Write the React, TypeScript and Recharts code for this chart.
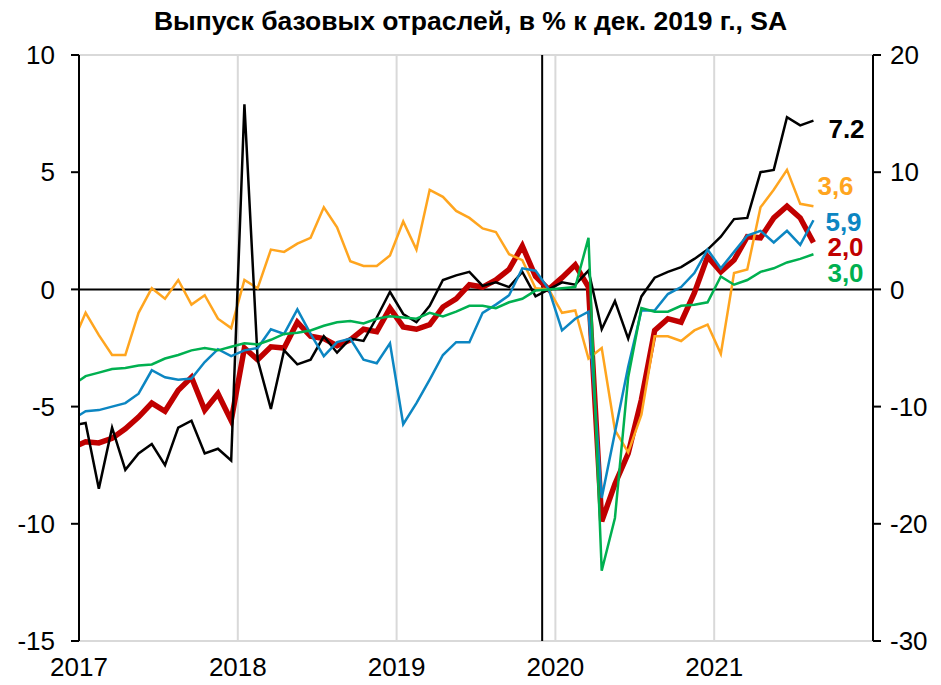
import { LineChart, Line, XAxis, YAxis, CartesianGrid, ReferenceLine } from 'recharts';

// Monthly, Dec 2016 .. Aug 2021 (Dec 2016 sits left of the axis and is clipped)
const months = [
  '2016-12',
  '2017-01', '2017-02', '2017-03', '2017-04', '2017-05', '2017-06', '2017-07', '2017-08', '2017-09', '2017-10', '2017-11', '2017-12',
  '2018-01', '2018-02', '2018-03', '2018-04', '2018-05', '2018-06', '2018-07', '2018-08', '2018-09', '2018-10', '2018-11', '2018-12',
  '2019-01', '2019-02', '2019-03', '2019-04', '2019-05', '2019-06', '2019-07', '2019-08', '2019-09', '2019-10', '2019-11', '2019-12',
  '2020-01', '2020-02', '2020-03', '2020-04', '2020-05', '2020-06', '2020-07', '2020-08', '2020-09', '2020-10', '2020-11', '2020-12',
  '2021-01', '2021-02', '2021-03', '2021-04', '2021-05', '2021-06', '2021-07', '2021-08',
];

const yearLabels = ['2017', '2018', '2019', '2020', '2021'];

// left axis
const blackSeries = [
  -5.8,
  -5.7, -8.5, -5.9, -7.7, -7.0, -6.6, -7.5, -5.9, -5.6, -7.0, -6.8, -7.3,
  7.9, -3.0, -5.1, -2.6, -3.2, -3.0, -2.0, -2.7, -2.1, -2.2, -1.2, -0.1,
  -1.05, -1.4, -0.7, 0.4, 0.6, 0.75, 0.15, 0.3, 0.1, 0.75, -0.3, 0,
  0.3, 0.2, 0.8, -1.7, -0.5, -2.1, -0.3, 0.5, 0.75, 0.95, 1.3, 1.7,
  2.25, 3.0, 3.05, 5.0, 5.1, 7.35, 7.0, 7.2,
];

const orangeSeries = [
  -2.3,
  -1.0, -1.95, -2.8, -2.8, -1.0, 0.05, -0.4, 0.4, -0.65, -0.25, -1.25, -1.65,
  0.4, 0.05, 1.7, 1.6, 1.95, 2.2, 3.5, 2.65, 1.2, 1.0, 1.0, 1.45,
  2.9, 1.7, 4.25, 3.95, 3.35, 3.05, 2.6, 2.45, 1.5, 1.25, 0.05, 0,
  -1.0, -0.9, -2.95, -2.5, -6.0, -6.95, -5.35, -2.0, -2.0, -2.2, -1.75, -1.5,
  -2.75, 0.7, 0.85, 3.5, 4.25, 5.1, 3.65, 3.55,
];

const redSeries = [
  -6.75,
  -6.5, -6.55, -6.35, -5.95, -5.45, -4.85, -5.2, -4.3, -3.75, -5.15, -4.45, -5.6,
  -2.5, -3.0, -2.45, -2.5, -1.4, -2.0, -2.1, -2.4, -2.15, -1.7, -1.8, -0.8,
  -1.6, -1.7, -1.5, -0.75, -0.4, 0.2, 0.1, 0.4, 0.85, 1.85, 0.55, 0,
  0.5, 1.05, 0.1, -9.9, -8.3, -7.0, -4.7, -1.75, -1.25, -1.4, -0.15, 1.4,
  0.75, 1.25, 2.25, 2.2, 3.05, 3.55, 3.05, 2.0,
];

// right axis
const blueSeries = [
  -11.1,
  -10.4, -10.3, -10.0, -9.7, -8.9, -6.9, -7.5, -7.7, -7.6, -6.2, -5.1, -5.7,
  -5.2, -5.0, -3.4, -3.8, -1.7, -3.8, -5.7, -4.5, -4.2, -6.0, -6.3, -4.6,
  -11.5, -9.7, -7.7, -5.6, -4.5, -4.5, -2.0, -1.3, -0.5, 1.8, 1.6, 0,
  -3.5, -2.5, -1.9, -17.8, -12.2, -6.6, -1.8, -1.8, -0.4, 0.2, 1.4, 3.4,
  1.8, 3.2, 4.6, 5.0, 4.0, 5.0, 3.8, 5.9,
];

const greenSeries = [
  -8.2,
  -7.4, -7.1, -6.8, -6.7, -6.5, -6.4, -5.9, -5.6, -5.2, -5.0, -5.2, -4.9,
  -4.6, -4.7, -4.3, -3.8, -3.7, -3.5, -3.1, -2.8, -2.7, -2.9, -2.5, -2.3,
  -2.4, -2.5, -2.0, -2.3, -1.9, -1.4, -1.4, -1.6, -1.1, -0.8, -0.1, 0,
  0.1, 0.2, 4.4, -24.0, -19.5, -7.5, -1.6, -1.9, -1.9, -1.4, -1.3, -1.1,
  1.1, 0.4, 0.8, 1.5, 1.8, 2.3, 2.6, 3.0,
];

const endLabels = {
  black: '7.2',
  orange: '3,6',
  blue: '5,9',
  red: '2,0',
  green: '3,0',
};

const chartData = months.map((m, i) => ({
  month: m,
  x: i - 0.5, // mid-month position, Jan 2017 = 0.5
  black: blackSeries[i],
  orange: orangeSeries[i],
  red: redSeries[i],
  blue: blueSeries[i],
  green: greenSeries[i],
}));

const LAST = months.length - 1;
const FONT = '"Liberation Sans", Arial, sans-serif';

const endLabel = (text: string, color: string, dx: number, dy: number) => (props: any) => {
  if (props.index !== LAST) return null;
  return (
    <text
      x={props.x + dx}
      y={props.y + dy}
      fill={color}
      fontSize={26}
      fontWeight="bold"
      fontFamily={FONT}
    >
      {text}
    </text>
  );
};

const tickStyle = { fontSize: 26, fill: '#000', fontFamily: FONT };

const App = () => {
  return (
    <div style={{ position: 'absolute', left: 0, top: 0, width: 941, height: 685, background: '#fff' }}>
      <div
        style={{
          position: 'absolute',
          top: 6,
          left: 0,
          width: 941,
          textAlign: 'center',
          fontFamily: FONT,
          fontWeight: 'bold',
          fontSize: 26.5,
          lineHeight: 1.15,
        }}
      >
        Выпуск базовых отраслей, в % к дек. 2019 г., SA
      </div>
      <LineChart
        width={941}
        height={685}
        data={chartData}
        margin={{ top: 55, right: 0, bottom: 0, left: 0 }}
        style={{ fontFamily: FONT }}
      >
        <CartesianGrid stroke="#d9d9d9" strokeWidth={2} />
        <XAxis
          dataKey="x"
          type="number"
          domain={[0, 60]}
          allowDataOverflow
          ticks={[0, 12, 24, 36, 48]}
          tickFormatter={(v: number) => yearLabels[v / 12]}
          axisLine={false}
          tickLine={false}
          tickSize={8}
          tickMargin={9}
          height={44}
          tick={tickStyle}
          interval={0}
        />
        <YAxis
          yAxisId="left"
          domain={[-15, 10]}
          ticks={[-15, -10, -5, 0, 5, 10]}
          width={79}
          tick={tickStyle}
          tickSize={8}
          tickMargin={16}
          axisLine={{ stroke: '#000', strokeWidth: 2 }}
          tickLine={{ stroke: '#000', strokeWidth: 2 }}
          interval={0}
        />
        <YAxis
          yAxisId="right"
          orientation="right"
          domain={[-30, 20]}
          ticks={[-30, -20, -10, 0, 10, 20]}
          width={68}
          tick={{ ...tickStyle, textAnchor: 'start' }}
          tickSize={8}
          tickMargin={9}
          axisLine={{ stroke: '#000', strokeWidth: 2 }}
          tickLine={{ stroke: '#000', strokeWidth: 2 }}
          interval={0}
        />
        <ReferenceLine yAxisId="left" y={0} stroke="#000" strokeWidth={2} />
        <ReferenceLine yAxisId="left" x={35} stroke="#000" strokeWidth={2} />
        <Line
          yAxisId="left"
          dataKey="red"
          stroke="#c00000"
          strokeWidth={5.5}
          dot={false}
          isAnimationActive={false}
          label={endLabel(endLabels.red, '#c00000', 14, 13)}
        />
        <Line
          yAxisId="left"
          dataKey="orange"
          stroke="#ffa51f"
          strokeWidth={2.5}
          dot={false}
          isAnimationActive={false}
          label={endLabel(endLabels.orange, '#ffa51f', 4, -11)}
        />
        <Line
          yAxisId="left"
          dataKey="black"
          stroke="#000"
          strokeWidth={2.5}
          dot={false}
          isAnimationActive={false}
          label={endLabel(endLabels.black, '#000', 15, 17)}
        />
        <Line
          yAxisId="right"
          dataKey="blue"
          stroke="#0c86c2"
          strokeWidth={2.5}
          dot={false}
          isAnimationActive={false}
          label={endLabel(endLabels.blue, '#0c86c2', 12, 11)}
        />
        <Line
          yAxisId="right"
          dataKey="green"
          stroke="#00b050"
          strokeWidth={2.5}
          dot={false}
          isAnimationActive={false}
          label={endLabel(endLabels.green, '#00b050', 14, 28)}
        />
      </LineChart>
    </div>
  );
};

export default App;
